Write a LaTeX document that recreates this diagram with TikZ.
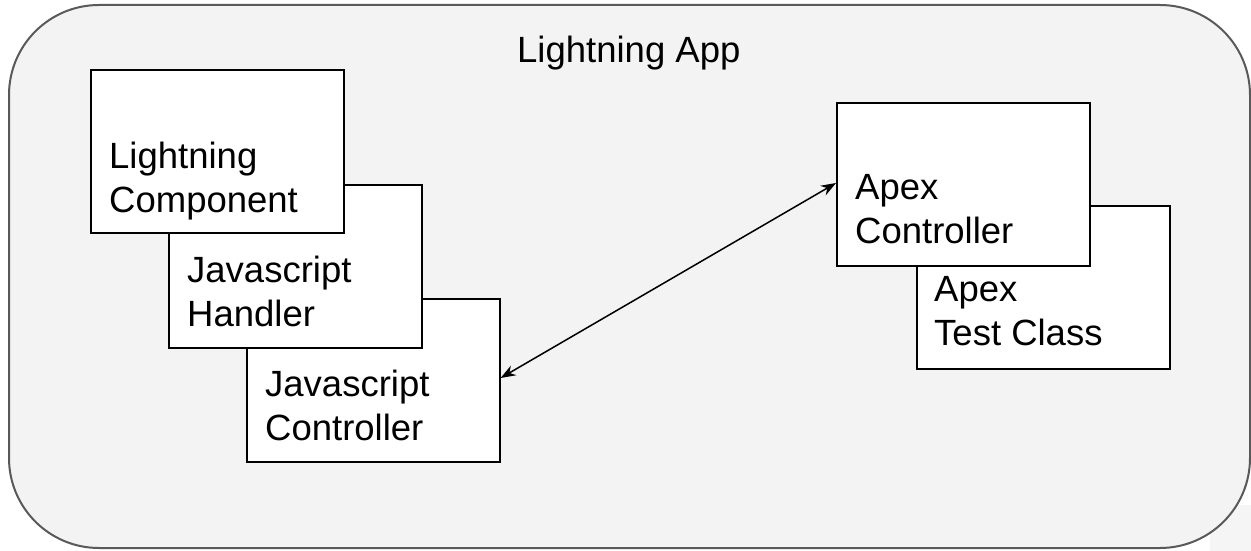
\documentclass[tikz,border=0pt]{standalone}
\usepackage{fontspec}
\setmainfont{Liberation Sans}
\usetikzlibrary{arrows.meta}
\definecolor{bgfill}{HTML}{F3F3F3}
\definecolor{bordergray}{HTML}{595959}
\begin{document}
\begin{tikzpicture}[x=1pt,y=-1pt,
  comp/.style={draw=black,line width=1.6pt,fill=white,rectangle,inner sep=0pt,
    minimum width=253pt,minimum height=163pt,anchor=north west},
  lbl/.style={font=\fontsize{36.5}{44}\selectfont,align=left,anchor=base west,inner sep=0pt},
  link/.style={line width=1.5pt,{Stealth[length=15pt,width=11pt]}-{Stealth[length=15pt,width=11pt]}}]
\useasboundingbox (0,0) rectangle (1251,551);
\fill[bgfill!85!white] (1210,505) rectangle (1251,551);
\draw[bordergray,line width=2pt,fill=bgfill,rounded corners=90pt] (9,5) rectangle (1250,548);
\node[font=\fontsize{36.5}{44}\selectfont,anchor=base west,inner sep=0pt] (title) at (517,63) {Lightning App};
% left stack (back to front)
\node[comp] (jc) at (246,298) {};
\node[lbl] (jct) at (265,440) {Javascript\\Controller};
\node[comp] (jh) at (168,184) {};
\node[lbl] (jht) at (187,326) {Javascript\\Handler};
\node[comp] (lc) at (90,69) {};
\node[lbl] (lct) at (109,212) {Lightning\\Component};
% right stack (back to front)
\node[comp] (atc) at (916,205) {};
\node[lbl] (atct) at (934,345) {Apex\\Test Class};
\node[comp] (ac) at (836,102) {};
\node[lbl] (act) at (855,243) {Apex\\Controller};
\draw[link] (jc.east |- 0,378) -- (ac.west |- 0,183);
\end{tikzpicture}
\end{document}
